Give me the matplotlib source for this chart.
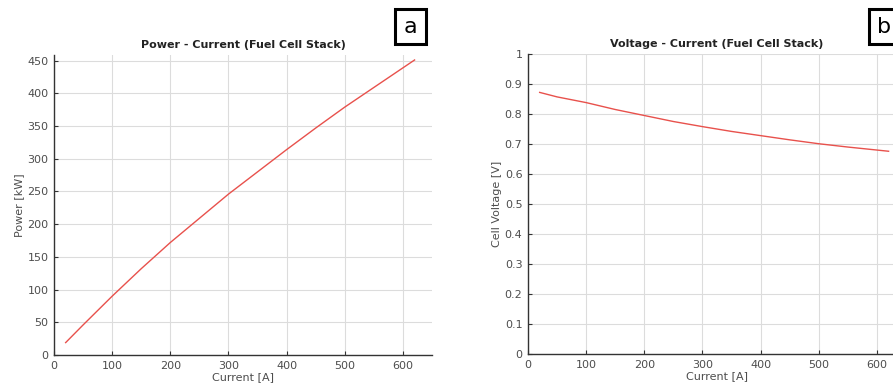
import numpy as np
import matplotlib.pyplot as plt
from matplotlib.patches import Rectangle

# values
current = [20, 50, 100, 150, 200, 250, 300, 350, 400, 450, 500, 550, 600, 620]
power_kw = [19, 46, 90, 132, 172, 209, 246, 280, 314, 347, 379, 409, 439, 451]
cell_voltage = [0.872, 0.857, 0.838, 0.815, 0.795, 0.775, 0.758, 0.742,
                0.728, 0.714, 0.701, 0.690, 0.680, 0.676]

line_color = '#e8514c'
text_color = '#4d4d4d'

fig = plt.figure(figsize=(8.93, 3.91), dpi=100)
ax1 = fig.add_axes([0.0605, 0.092, 0.4233, 0.768])
ax2 = fig.add_axes([0.5913, 0.094, 0.4233, 0.768])


def style(ax):
    for s in ['top', 'right']:
        ax.spines[s].set_visible(False)
    for s in ['left', 'bottom']:
        ax.spines[s].set_color('#333333')
        ax.spines[s].set_linewidth(1.0)
    ax.grid(True, color='#dcdcdc', linewidth=0.8)
    ax.set_axisbelow(True)
    ax.tick_params(direction='in', length=3, labelsize=8, colors='#333333',
                   labelcolor=text_color, pad=4)
    ax.set_xlim(0, 650)
    ax.set_xticks(range(0, 601, 100))


ax1.plot(current, power_kw, color=line_color, linewidth=1.0)
style(ax1)
ax1.set_ylim(0, 459)
ax1.set_yticks(range(0, 451, 50))
ax1.set_title('Power - Current (Fuel Cell Stack)', fontsize=8, fontweight='bold',
              color='#222222', pad=5)
ax1.set_xlabel('Current [A]', fontsize=8, color=text_color, labelpad=1)
ax1.set_ylabel('Power [kW]', fontsize=8, color=text_color, labelpad=2)

ax2.plot(current, cell_voltage, color=line_color, linewidth=1.0)
style(ax2)
ax2.set_ylim(0, 1)
ax2.set_yticks(np.arange(0, 1.01, 0.1))
ax2.set_yticklabels(['0', '0.1', '0.2', '0.3', '0.4', '0.5', '0.6', '0.7',
                     '0.8', '0.9', '1'])
ax2.set_title('Voltage - Current (Fuel Cell Stack)', fontsize=8, fontweight='bold',
              color='#222222', pad=5)
ax2.set_xlabel('Current [A]', fontsize=8, color=text_color, labelpad=1)
ax2.set_ylabel('Cell Voltage [V]', fontsize=8, color=text_color, labelpad=2)

# panel letters in boxes
for x0, letter in [(0.4423, 'a'), (0.9731, 'b')]:
    fig.add_artist(Rectangle((x0, 0.8875), 0.0347, 0.0895, transform=fig.transFigure,
                             facecolor='white', edgecolor='black', linewidth=2.2))
    fig.text(x0 + 0.0174, 0.930, letter, fontsize=16, ha='center', va='center')

fig.savefig('out.png', dpi=100)
